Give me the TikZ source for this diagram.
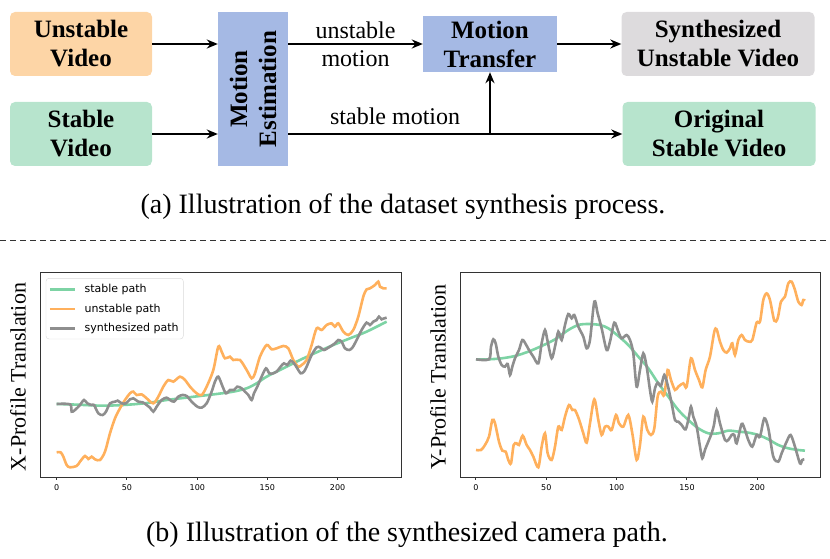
\documentclass[tikz,border=0pt]{standalone}
\usepackage{fontspec}
\setmainfont{Liberation Serif}
\newfontfamily\plotfont{DejaVu Sans}
\usetikzlibrary{arrows.meta}

\definecolor{boxorange}{HTML}{FDD5A6}
\definecolor{boxgreen}{HTML}{B7E4CD}
\definecolor{boxblue}{HTML}{A5B9E4}
\definecolor{boxgray}{HTML}{DDDBDD}
\definecolor{pathgreen}{HTML}{7DD3A4}
\definecolor{pathorange}{HTML}{FFB05C}
\definecolor{pathgray}{HTML}{8E8E8E}
\definecolor{axisgray}{HTML}{333333}

\tikzset{
  vidbox/.style={rounded corners=5pt, minimum width=142pt, minimum height=64pt,
    align=center, inner sep=0pt, font=\fontsize{25}{29}\selectfont\bfseries},
  opbox/.style={fill=boxblue, align=center, inner sep=0pt,
    font=\fontsize{25}{29}\selectfont\bfseries},
  arr/.style={-{Stealth[length=11pt,width=9pt]}, line width=1.8pt},
  caption/.style={font=\fontsize{28}{32}\selectfont},
  ylab/.style={rotate=90, font=\fontsize{22}{26}\selectfont},
  curve/.style={line width=2.6pt, smooth, tension=0.5},
  ticklab/.style={below, font=\plotfont\fontsize{8}{9}\selectfont},
  frame/.style={draw=axisgray, line width=1pt}
}

\begin{document}
\begin{tikzpicture}[x=1pt,y=-1pt]
    \useasboundingbox (0,0) rectangle (830,559);

    % Draw the synthesis pipeline
    \node[vidbox, fill=boxorange] (uv) at (81,44) {Unstable\\Video};
    \node[vidbox, fill=boxgreen] (sv) at (81,134) {Stable\\Video};
    \node[opbox, rotate=90, minimum width=154pt, minimum height=70pt] (me) at (253,89) {Motion\\Estimation};
    \node[opbox, minimum width=134pt, minimum height=56pt] (mt) at (490,44) {Motion\\Transfer};
    \node[vidbox, fill=boxgray, minimum width=193pt] (syn) at (718,44) {Synthesized\\Unstable Video};
    \node[vidbox, fill=boxgreen, minimum width=193pt] (orig) at (719,134) {Original\\Stable Video};
    \coordinate (br) at (mt |- orig);

    \draw[arr] (uv.east) -- (uv.east -| me.north);
    \draw[arr] (sv.east) -- (sv.east -| me.north);
    \draw[arr] (me.south |- mt) -- (mt.west)
        node[midway, align=center, font=\fontsize{24}{28}\selectfont] {unstable\\motion};
    \draw[arr] (mt.east) -- (mt.east -| syn.west);
    \draw[arr] (me.south |- orig) -- (orig.west)
        node[pos=0.32, above=5pt, font=\fontsize{24}{28}\selectfont] {stable motion};
    \draw[arr] (br) -- (mt.south);

    \node[caption] (capa) at (403,207) {(a) Illustration of the dataset synthesis process.};
    \draw[axisgray, line width=1pt, dash pattern=on 6pt off 4pt] (0,240) -- (830,240);

    % X-profile plot
    \begin{scope}[shift={(0,260)}, x=0.3333pt, y=-0.3333pt]
        \draw[frame] (122,38) rectangle (1205,652);
        \draw[frame] (170,652) -- (170,661) node[ticklab] {0};
        \draw[frame] (381,652) -- (381,661) node[ticklab] {50};
        \draw[frame] (592,652) -- (592,661) node[ticklab] {100};
        \draw[frame] (802,652) -- (802,661) node[ticklab] {150};
        \draw[frame] (1013,652) -- (1013,661) node[ticklab] {200};

        \draw[curve, pathgreen] plot coordinates {(170,432) (230,434) (300,437) (350,436) (400,433)
            (450,428) (500,420) (550,414) (600,408) (650,402) (700,395) (740,385) (770,370) (800,350)
            (850,325) (900,300) (950,277) (1000,255) (1050,235) (1100,215) (1160,185)};
        \draw[curve, pathorange] plot coordinates {(170,577) (182,577) (190,590) (200,615) (210,622)
            (230,618) (240,605) (255,588) (265,597) (275,590) (285,598) (300,600) (315,575) (330,520)
            (345,475) (360,445) (375,420) (390,400) (400,395) (410,405) (425,403) (440,415) (460,430)
            (475,410) (490,380) (505,360) (520,365) (540,350) (555,360) (570,380) (590,400) (605,405)
            (620,380) (640,330) (655,260) (665,275) (675,295) (690,290) (700,300) (720,300) (740,330)
            (755,355) (765,340) (780,290) (800,255) (815,268) (830,265) (850,258) (865,265) (880,300)
            (895,320) (905,315) (920,300) (935,255) (950,205) (965,210) (980,195) (995,190) (1005,200)
            (1015,190) (1030,215) (1045,225) (1060,210) (1075,170) (1090,110) (1100,88) (1110,85)
            (1125,75) (1135,65) (1140,80) (1150,85) (1160,85)};
        \draw[curve, pathgray] plot coordinates {(170,432) (210,433) (215,455) (225,450) (240,435)
            (252,420) (262,430) (275,435) (282,435) (295,460) (308,465) (318,455) (330,430) (345,425)
            (353,422) (365,430) (378,430) (390,418) (400,415) (415,425) (428,427) (440,435) (450,443)
            (460,455) (470,440) (485,420) (500,413) (510,420) (522,425) (535,410) (548,405) (560,408)
            (575,425) (592,440) (605,443) (620,430) (635,395) (645,365) (655,350) (668,380) (678,400)
            (690,390) (702,390) (712,380) (725,385) (735,395) (745,405) (755,420) (762,400) (772,380)
            (785,350) (798,325) (808,340) (820,340) (830,335) (842,320) (852,310) (862,315) (872,302)
            (882,310) (892,325) (902,340) (912,335) (920,320) (935,285) (950,262) (960,262) (972,270)
            (982,265) (995,257) (1005,250) (1015,240) (1025,245) (1035,265) (1048,270) (1058,262)
            (1070,240) (1085,210) (1100,188) (1110,195) (1120,185) (1130,180) (1137,170) (1145,178)
            (1153,175) (1160,173)};

        % legend
        \draw[draw=black!15, fill=white, rounded corners=3pt] (138,55) rectangle (550,237);
        \draw[pathgreen, line width=2.6pt] (150,88) -- (225,88) node[right=5pt, black, font=\plotfont\fontsize{11}{13}\selectfont] {stable path};
        \draw[pathorange, line width=2.6pt] (150,147) -- (225,147) node[right=5pt, black, font=\plotfont\fontsize{11}{13}\selectfont] {unstable path};
        \draw[pathgray, line width=2.6pt] (150,205) -- (225,205) node[right=5pt, black, font=\plotfont\fontsize{11}{13}\selectfont] {synthesized path};
    \end{scope}
    \node[ylab] (xlab) at (18,377) {X-Profile Translation};

    % Y-profile plot
    \begin{scope}[shift={(415,260)}, x=0.3333pt, y=-0.3333pt]
        \draw[frame] (137,38) rectangle (1218,652);
        \draw[frame] (183,652) -- (183,661) node[ticklab] {0};
        \draw[frame] (394,652) -- (394,661) node[ticklab] {50};
        \draw[frame] (605,652) -- (605,661) node[ticklab] {100};
        \draw[frame] (816,652) -- (816,661) node[ticklab] {150};
        \draw[frame] (1027,652) -- (1027,661) node[ticklab] {200};

        \draw[curve, pathgreen] plot coordinates {(183,298) (220,298) (260,295) (300,288) (340,275)
            (380,258) (420,238) (460,210) (490,195) (520,192) (555,195) (580,205) (610,228) (640,255)
            (670,290) (700,325) (730,370) (760,410) (790,450) (820,480) (850,505) (880,520) (910,520)
            (940,512) (970,515) (1000,518) (1030,525) (1060,538) (1090,555) (1120,565) (1150,570)
            (1170,572)};
        \draw[curve, pathorange] plot coordinates {(183,570) (198,570) (210,555) (222,530) (232,480)
            (240,490) (252,545) (262,572) (272,575) (280,600) (288,610) (296,555) (305,550) (312,555)
            (323,527) (335,555) (345,570) (355,590) (370,622) (380,560) (390,520) (398,580) (410,600)
            (420,560) (430,500) (440,510) (450,470) (462,435) (472,450) (480,450) (492,478) (505,520)
            (515,548) (525,490) (538,418) (550,480) (560,525) (570,500) (580,500) (590,510) (603,465)
            (612,490) (625,500) (640,465) (652,520) (665,600) (675,555) (685,470) (697,510) (708,525)
            (718,505) (728,410) (738,395) (748,405) (758,330) (768,360) (780,390) (790,380) (805,370)
            (815,380) (828,295) (840,330) (852,360) (862,382) (872,330) (885,290) (898,215) (905,208)
            (915,245) (925,270) (935,278) (945,265) (952,250) (960,285) (970,240) (980,225) (990,240)
            (1002,245) (1012,240) (1025,188) (1035,185) (1045,120) (1055,100) (1065,120) (1078,182)
            (1088,175) (1098,125) (1110,110) (1120,70) (1130,65) (1140,90) (1150,125) (1160,135)
            (1165,120) (1170,122)};
        \draw[curve, pathgray] plot coordinates {(183,298) (222,298) (228,260) (235,238) (242,250)
            (250,290) (260,315) (270,320) (278,312) (285,345) (292,320) (300,295) (312,270) (322,240)
            (332,252) (342,270) (355,290) (370,310) (380,250) (390,210) (398,245) (410,295) (420,260)
            (430,215) (440,240) (450,195) (460,162) (470,175) (478,165) (490,200) (505,230) (515,265)
            (525,240) (538,125) (548,160) (560,205) (575,270) (585,245) (598,188) (610,215) (620,235)
            (635,225) (645,240) (655,280) (665,380) (675,330) (685,280) (695,320) (705,390) (712,425)
            (720,385) (728,368) (738,378) (748,345) (758,375) (770,430) (780,480) (790,485) (800,495)
            (812,508) (822,470) (828,440) (835,470) (845,500) (855,560) (862,595) (870,570) (880,545)
            (890,520) (897,495) (905,450) (915,490) (930,540) (940,540) (950,525) (958,525) (965,550)
            (980,492) (990,510) (1000,540) (1012,560) (1025,525) (1035,530) (1048,475) (1060,505)
            (1075,590) (1090,605) (1100,580) (1115,545) (1127,525) (1140,560) (1155,610) (1162,600)
            (1168,598)};
    \end{scope}
    \node[ylab] (ylab) at (438,377) {Y-Profile Translation};

    \node[caption] (capb) at (407,535) {(b) Illustration of the synthesized camera path.};
\end{tikzpicture}
\end{document}
